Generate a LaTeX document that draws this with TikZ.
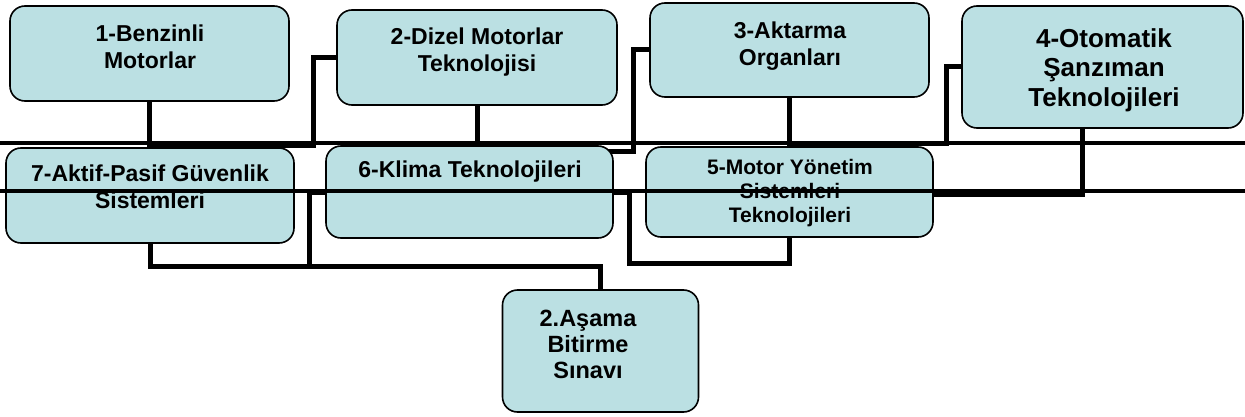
\documentclass[tikz,border=0pt]{standalone}
\usepackage{fontspec}
\setmainfont{Liberation Sans}
\definecolor{boxfill}{HTML}{BBE0E3}
\tikzset{
  box/.style={draw=black, line width=1.6pt, fill=boxfill, rounded corners=15pt, inner sep=0pt},
  txt/.style={align=center, inner sep=0pt, anchor=north, font=\bfseries\fontsize{23}{27}\selectfont},
  conn/.style={line width=5pt, draw=black},
  bar/.style={line width=4.5pt, draw=black},
}
\begin{document}
\begin{tikzpicture}[x=1pt,y=-1pt]
\useasboundingbox (0,0) rectangle (1245,417);
\path
  coordinate (p1) at (149.5,53.5)
  coordinate (p2) at (477,57.5)
  coordinate (p3) at (789.5,50)
  coordinate (p4) at (1102.5,67)
  coordinate (p7) at (150,195.5)
  coordinate (p6) at (469.5,192)
  coordinate (p5) at (789.5,192)
  coordinate (p8) at (600.5,351);
\begin{scope}[every node/.style={inner sep=0pt, outer sep=0pt}]
\node[minimum width=279pt, minimum height=95pt] (b1) at (p1) {};
\node[minimum width=280pt, minimum height=95pt] (b2) at (p2) {};
\node[minimum width=279pt, minimum height=94pt] (b3) at (p3) {};
\node[minimum width=281pt, minimum height=122pt] (b4) at (p4) {};
\node[minimum width=288pt, minimum height=95pt] (b7) at (p7) {};
\node[minimum width=287pt, minimum height=92pt] (b6) at (p6) {};
\node[minimum width=287pt, minimum height=90pt] (b5) at (p5) {};
\node[minimum width=196pt, minimum height=122pt] (b8) at (p8) {};
\end{scope}
% connectors (under the boxes)
\draw[conn] (b1.south) |- (313,146) |- (b2.west);
\draw[conn] (b2.south) |- (633,152) |- (b3.west);
\draw[conn] (b3.south) |- (946,144) |- (b4.west);
\draw[conn] ([xshift=-20pt]b4.south) |- ([yshift=-2pt]b5.east);
\draw[conn] (b5.south) |- (629,263) |- (b6.east);
\draw[conn] (b6.west) -| (309,266) -| (b8.north);
\draw[conn] (b7.south) |- (309,266);
% boxes
\draw[box] (b1.south west) rectangle (b1.north east);
\draw[box] (b2.south west) rectangle (b2.north east);
\draw[box] (b3.south west) rectangle (b3.north east);
\draw[box] (b4.south west) rectangle (b4.north east);
\draw[box] (b7.south west) rectangle (b7.north east);
\draw[box] (b6.south west) rectangle (b6.north east);
\draw[box] (b5.south west) rectangle (b5.north east);
\draw[box] (b8.south west) rectangle (b8.north east);
% texts
\node[txt] (t1) at (150,24.6) {1-Benzinli\\Motorlar};
\node[txt] (t2) at (477,27.6) {2-Dizel Motorlar\\Teknolojisi};
\node[txt] (t3) at (790,21.6) {3-Aktarma\\Organları};
\node[txt, font=\bfseries\fontsize{26}{29.5}\selectfont] (t4) at (1104,28) {4-Otomatik\\Şanzıman\\Teknolojileri};
\node[txt] (t7) at (150,164.6) {7-Aktif-Pasif Güvenlik\\Sistemleri};
\node[txt] (t6) at (470,160.6) {6-Klima Teknolojileri};
\node[txt, font=\bfseries\fontsize{21}{24}\selectfont] (t5) at (790,159.5) {5-Motor Yönetim\\Sistemleri\\Teknolojileri};
\node[txt, font=\bfseries\fontsize{23.5}{26}\selectfont] (t8) at (588,309.4) {2.Aşama\\Bitirme\\Sınavı};
% two long bars across the whole picture, on top
\coordinate (l1a) at (0,143);
\coordinate (l1b) at (1245,143);
\coordinate (l2a) at (0,191);
\coordinate (l2b) at (1245,191);
\draw[bar] (l1a) -- (l1b);
\draw[bar] (l2a) -- (l2b);
\end{tikzpicture}
\end{document}
